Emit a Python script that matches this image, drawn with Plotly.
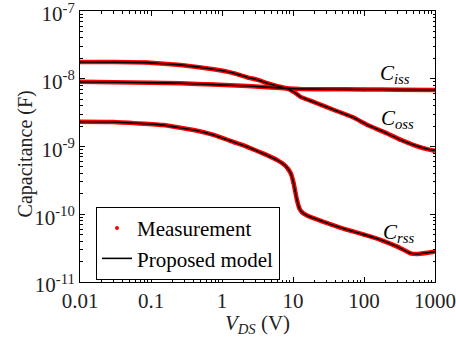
import math
import plotly.graph_objects as go

# ---- data ----
v_coss = [0.01, 0.03, 0.0875, 0.26, 0.76, 1.5, 2.26, 3.2, 4.33, 6.0, 8.3, 10.5, 12.8, 20, 37.9, 70, 112, 200, 331, 503, 700, 980]
c_coss = [1.77e-8, 1.76e-8, 1.73e-8, 1.6e-8, 1.38e-8, 1.2e-8, 1.05e-8, 9.6e-9, 8.6e-9, 7.8e-9, 7.2e-9, 6.3e-9, 5.4e-9, 4.5e-9, 3.46e-9, 2.7e-9, 2.08e-9, 1.6e-9, 1.25e-9, 1.05e-9, 9.4e-10, 8.67e-10]

v_ciss = [0.01, 0.03, 0.1, 0.26, 0.76, 2.26, 5.0, 8.3, 12.8, 30, 100, 300, 1000]
c_ciss = [9.0e-9, 8.9e-9, 8.75e-9, 8.6e-9, 8.2e-9, 7.8e-9, 7.45e-9, 7.2e-9, 7.05e-9, 7.0e-9, 6.95e-9, 6.9e-9, 6.85e-9]

v_crss = [0.01, 0.03, 0.15, 0.4, 0.76, 1.5, 2.26, 4.0, 6.0, 7.5, 8.6, 9.4, 10.2, 11.4, 12.4, 13.4, 16, 19.8, 35, 58, 100, 170, 300, 450, 580, 980]
c_crss = [2.32e-9, 2.3e-9, 2.07e-9, 1.75e-9, 1.48e-9, 1.15e-9, 9.9e-10, 7.7e-10, 6.3e-10, 5.4e-10, 4.6e-10, 3.9e-10, 2.86e-10, 1.6e-10, 1.2e-10, 1.07e-10, 9.5e-11, 8.7e-11, 7.0e-11, 5.9e-11, 5.0e-11, 4.2e-11, 3.3e-11, 2.65e-11, 2.6e-11, 2.8e-11]

x_ticks = [0.01, 0.1, 1, 10, 100, 1000]
x_ticktext = ["0.01", "0.1", "1", "10", "100", "1000"]
y_ticks = [1e-11, 1e-10, 1e-9, 1e-8, 1e-7]
y_ticktext = ["10<sup>-11</sup>", "10<sup>-10</sup>", "10<sup>-9</sup>", "10<sup>-8</sup>", "10<sup>-7</sup>"]

labels = ["<i>C<sub>iss</sub></i>", "<i>C<sub>oss</sub></i>", "<i>C<sub>rss</sub></i>"]
label_v = [272, 300, 310]
label_c = [1.17e-8, 2.55e-9, 5.2e-11]

FONT = "Liberation Serif"
RED = "#ff0000"

fig = go.Figure()
series = [(v_coss, c_coss), (v_ciss, c_ciss), (v_crss, c_crss)]
for v, c in series:
    fig.add_trace(go.Scatter(x=v, y=c, mode="lines", line=dict(color=RED, width=4.5, shape="spline", smoothing=0.3),
                             showlegend=False, hoverinfo="skip"))
for i, (v, c) in enumerate(series):
    fig.add_trace(go.Scatter(x=v, y=c, mode="markers", marker=dict(color=RED, size=4),
                             name="Measurement", showlegend=(i == 0)))
for i, (v, c) in enumerate(series):
    fig.add_trace(go.Scatter(x=v, y=c, mode="lines", line=dict(color="black", width=1.6, shape="spline", smoothing=0.3),
                             name="Proposed model", showlegend=(i == 0)))

for t, x, y in zip(labels, label_v, label_c):
    fig.add_annotation(x=math.log10(x), y=math.log10(y), xref="x", yref="y", text=t, showarrow=False,
                       font=dict(family=FONT, size=21, color="black"), xanchor="center", yanchor="middle")

# y-axis title placed as rotated annotation
fig.add_annotation(x=-0.1525, y=0.474, xref="paper", yref="paper", text="Capacitance (F)", textangle=-90,
                   showarrow=False, font=dict(family=FONT, size=20, color="#222"), xanchor="center", yanchor="middle")

axis_common = dict(type="log", showgrid=False, zeroline=False, showline=True, linecolor="black", linewidth=1,
                   mirror="allticks", ticks="inside", ticklen=5, tickcolor="black", automargin=False,
                   ticklabeloverflow="allow",
                   minor=dict(ticks="inside", ticklen=2.5, tickcolor="black", dtick="D1"),
                   tickfont=dict(family=FONT, size=21, color="#222"))

fig.update_xaxes(range=[-2, 3], tickvals=x_ticks, ticktext=x_ticktext,
                 title=dict(text="<i>V<sub>DS</sub></i> (V)", font=dict(family=FONT, size=21, color="#222"), standoff=0),
                 **axis_common)
fig.update_yaxes(range=[-11, -7], tickvals=y_ticks, ticktext=y_ticktext, ticklabelshift=3, **axis_common)

fig.update_layout(width=456, height=337, margin=dict(l=80, r=21, t=11, b=55),
                  plot_bgcolor="white", paper_bgcolor="white",
                  legend=dict(x=0.045, y=0.277, xanchor="left", yanchor="top", bgcolor="white",
                              bordercolor="black", borderwidth=1,
                              font=dict(family=FONT, size=21, color="black"), tracegroupgap=0,
                              itemwidth=30))

fig.write_html("out.html", config={"displayModeBar": False},
               post_script="document.body.style.margin='0';document.body.style.overflow='hidden';")
